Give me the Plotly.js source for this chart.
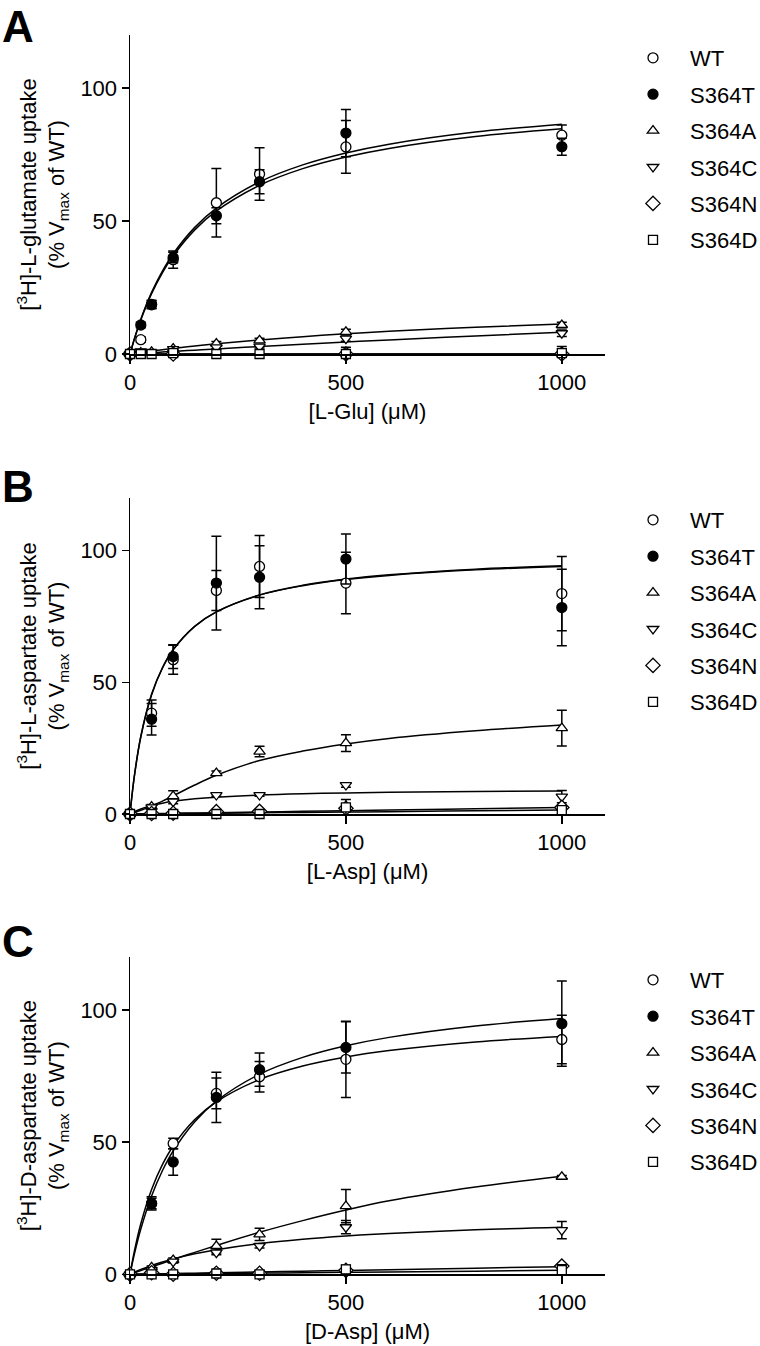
<!DOCTYPE html>
<html><head><meta charset="utf-8">
<script src="https://cdn.plot.ly/plotly-3.0.1.min.js"></script>
<style>body{margin:0;padding:0;background:#fff}#chart{width:760px;height:1346px}</style>
</head><body><div id="chart"></div>
<script>
// ---------- DATA ----------
const seriesNames = ['WT', 'S364T', 'S364A', 'S364C', 'S364N', 'S364D'];
const xTickVals = [0, 500, 1000];
const yTickVals = [0, 50, 100];

// Panel A: L-glutamate
const concA = [0, 25, 50, 100, 200, 300, 500, 1000];
const A_WT = [0, 5.4, 18.5, 35.5, 56.9, 67.7, 77.9, 82.3];
const A_WT_err = [0, 1, 1.5, 3.2, 12.9, 9.9, 9.9, 3.8];
const A_S364T = [0, 10.9, 18.7, 36.3, 52.0, 64.8, 83.1, 78.0];
const A_S364T_err = [0, 1, 1.5, 2, 3, 4.5, 8.9, 3.2];
const A_S364A = [0, 0.5, 0.8, 2.0, 3.9, 5.1, 8.3, 10.9];
const A_S364A_err = [0, 0.3, 0.3, 0.5, 0.8, 0.8, 1, 1];
const A_S364C = [0, 1.0, 0.5, 1.8, 2.5, 2.8, 5.8, 7.8];
const A_S364C_err = [0, 0.3, 0.3, 0.5, 0.5, 0.5, 1, 1.2];
const A_S364N = [0, -0.3, -0.5, 0, -0.2, -0.2, 0, 0];
const A_S364N_err = [0, 0, 0, 0, 0, 0, 0, 0];
const A_S364D = [0, 0, 0, 0.3, 0, 0, 0, 0.3];
const A_S364D_err = [0, 0, 0, 0, 0, 0, 2.5, 2.5];

// Panel B: L-aspartate
const concB = [0, 50, 100, 200, 300, 500, 1000];
const B_WT = [0, 38.3, 58.6, 84.9, 94.0, 87.7, 83.7];
const B_WT_err = [0, 5, 5.5, 7.6, 11.8, 11.7, 14.1];
const B_S364T = [0, 36.0, 59.8, 87.7, 89.9, 96.8, 78.4];
const B_S364T_err = [0, 6, 4.5, 17.8, 12, 9.5, 14.5];
const B_S364A = [0, 2.8, 6.8, 15.5, 23.7, 26.9, 32.6];
const B_S364A_err = [0, 0.8, 2, 0.8, 2, 3.2, 6.8];
const B_S364C = [0, 2.5, 4.7, 7.2, 7.2, 11.0, 6.6];
const B_S364C_err = [0, 0.5, 0.8, 0.5, 0.5, 0.8, 2.3];
const B_S364N = [0, 0.2, 0.3, 0.9, 1.0, 2.2, 2.5];
const B_S364N_err = [0, 0, 0, 0, 0, 0, 0];
const B_S364D = [0, 0, 0, 0, 0, 2.5, 1.5];
const B_S364D_err = [0, 0, 0, 0, 0.5, 3, 1.5];

// Panel C: D-aspartate
const concC = [0, 50, 100, 200, 300, 500, 1000];
const C_WT = [0, 26.8, 49.5, 68.4, 74.7, 81.3, 88.8];
const C_WT_err = [0, 2, 2, 5.8, 5.8, 14.4, 9.2];
const C_S364T = [0, 26.8, 42.5, 66.9, 77.4, 85.8, 94.8];
const C_S364T_err = [0, 2.5, 5, 9.5, 6.3, 9.7, 16.1];
const C_S364A = [0, 2.6, 5.4, 10.7, 15.1, 25.8, 36.9];
const C_S364A_err = [0, 0.5, 0.8, 2.6, 2.3, 6.3, 0.5];
const C_S364C = [0, 1.6, 4.8, 8.2, 10.7, 17.8, 16.7];
const C_S364C_err = [0, 0.5, 0.5, 0.8, 0.8, 2.5, 3.3];
const C_S364N = [0, 0.6, 0, 0.4, 0.4, 1.5, 3.1];
const C_S364N_err = [0, 0, 0, 0, 0, 0, 0];
const C_S364D = [0, 0, 0, 0.3, 0, 1.9, 1.6];
const C_S364D_err = [0, 0, 0, 0, 0, 1.5, 2];

// Fitted curves
const fitX = [0, 10, 25, 50, 75, 100, 150, 200, 300, 400, 500, 600, 800, 1000];
const A_WT_fit = [0, 5.67, 13.08, 23.17, 31.17, 37.69, 47.64, 54.89, 64.74, 71.13, 75.60, 78.91, 83.47, 86.47];
const A_S364T_fit = [0, 5.56, 12.82, 22.71, 30.56, 36.94, 46.70, 53.80, 63.46, 69.72, 74.10, 77.34, 81.82, 84.76];
const A_S364A_fit = [0, 0.23, 0.56, 1.10, 1.61, 2.10, 3.00, 3.83, 5.28, 6.52, 7.59, 8.52, 10.06, 11.29];
const A_S364C_fit = [0, 0.10, 0.25, 0.49, 0.73, 0.97, 1.45, 1.91, 2.80, 3.67, 4.49, 5.29, 6.80, 8.20];
const A_S364N_fit = [0, 0, 0, 0, 0, 0, 0, 0, 0, 0, 0, 0, 0, 0];
const A_S364D_fit = [0, 0, 0, 0, 0, 0, 0, 0, 0, 0, 0, 0, 0, 0];

const B_WT_fit = [0, 14.33, 29.47, 45.48, 55.54, 62.45, 71.31, 76.76, 83.12, 86.70, 89.01, 90.61, 92.71, 94.01];
const B_S364T_fit = [0, 14.18, 29.24, 45.25, 55.35, 62.31, 71.26, 76.78, 83.22, 86.86, 89.21, 90.84, 92.97, 94.30];
const B_S364A_fit = [0, 0.5, 1.4, 3.1, 4.9, 6.9, 11.0, 14.7, 20.3, 23.9, 26.6, 28.7, 31.6, 33.8];
const B_S364C_fit = [0, 0.87, 1.92, 3.2, 4.11, 4.8, 5.76, 6.4, 7.2, 7.68, 8.0, 8.23, 8.53, 8.73];
const B_S364N_fit = [0, 0.03, 0.06, 0.13, 0.19, 0.25, 0.38, 0.5, 0.75, 1.0, 1.25, 1.5, 2.0, 2.5];
const B_S364D_fit = [0, 0.02, 0.04, 0.08, 0.11, 0.15, 0.23, 0.3, 0.45, 0.6, 0.75, 0.9, 1.2, 1.5];

const C_WT_fit = [0, 8.66, 19.14, 32.11, 41.46, 48.54, 58.52, 65.22, 73.67, 78.76, 82.18, 84.62, 87.89, 89.97];
const C_S364T_fit = [0, 7.56, 17.12, 29.63, 39.16, 46.66, 57.73, 65.49, 75.67, 82.05, 86.42, 89.60, 93.92, 96.72];
const C_S364A_fit = [0, 0.55, 1.4, 2.8, 4.2, 5.6, 8.3, 10.9, 15.9, 20.3, 24.3, 27.8, 33.0, 37.1];
const C_S364C_fit = [0, 0.76, 1.80, 3.34, 4.67, 5.84, 7.77, 9.31, 11.62, 13.27, 14.50, 15.45, 16.84, 17.80];
const C_S364N_fit = [0, 0.03, 0.07, 0.15, 0.22, 0.29, 0.44, 0.58, 0.87, 1.16, 1.45, 1.74, 2.32, 2.9];
const C_S364D_fit = [0, 0.02, 0.04, 0.08, 0.11, 0.15, 0.23, 0.3, 0.45, 0.6, 0.75, 0.9, 1.2, 1.5];

const panelLabels = ['A', 'B', 'C'];
const xTitles = ['[L-Glu] (μM)', '[L-Asp] (μM)', '[D-Asp] (μM)'];
const yTitles = [
  '[<sup>3</sup>H]-L-glutamate uptake<br>(% V<sub>max</sub> of WT)',
  '[<sup>3</sup>H]-L-aspartate uptake<br>(% V<sub>max</sub> of WT)',
  '[<sup>3</sup>H]-D-aspartate uptake<br>(% V<sub>max</sub> of WT)'
];

// ---------- STYLE ----------
const FONT = 'Liberation Sans, Arial, Helvetica, sans-serif';
const markerStyles = [
  {symbol: 'circle', color: 'white', size: 10},
  {symbol: 'circle', color: 'black', size: 10},
  {symbol: 'triangle-up', color: 'white', size: 10},
  {symbol: 'triangle-down', color: 'white', size: 10},
  {symbol: 'diamond', color: 'white', size: 11},
  {symbol: 'square', color: 'white', size: 9}
];

const panels = [
  {x: concA, vals: [A_WT, A_S364T, A_S364A, A_S364C, A_S364N, A_S364D],
   errs: [A_WT_err, A_S364T_err, A_S364A_err, A_S364C_err, A_S364N_err, A_S364D_err],
   fits: [A_WT_fit, A_S364T_fit, A_S364A_fit, A_S364C_fit, A_S364N_fit, A_S364D_fit]},
  {x: concB, vals: [B_WT, B_S364T, B_S364A, B_S364C, B_S364N, B_S364D],
   errs: [B_WT_err, B_S364T_err, B_S364A_err, B_S364C_err, B_S364N_err, B_S364D_err],
   fits: [B_WT_fit, B_S364T_fit, B_S364A_fit, B_S364C_fit, B_S364N_fit, B_S364D_fit]},
  {x: concC, vals: [C_WT, C_S364T, C_S364A, C_S364C, C_S364N, C_S364D],
   errs: [C_WT_err, C_S364T_err, C_S364A_err, C_S364C_err, C_S364N_err, C_S364D_err],
   fits: [C_WT_fit, C_S364T_fit, C_S364A_fit, C_S364C_fit, C_S364N_fit, C_S364D_fit]}
];

const W = 760, H = 1346;
const xDom = [130 / W, 605 / W];
const yDoms = [
  [1 - 354 / H, 1 - 35 / H],
  [1 - 814 / H, 1 - 498 / H],
  [1 - 1274.3 / H, 1 - 957 / H]
];
const legendTops = [37, 499, 959];
const labelTops = [0, 460, 915];

const traces = [];
const layout = {
  width: W, height: H,
  margin: {l: 0, r: 0, t: 0, b: 0, autoexpand: false},
  paper_bgcolor: 'white', plot_bgcolor: 'white',
  font: {family: FONT, size: 22, color: 'black'},
  showlegend: true,
  annotations: []
};

panels.forEach((p, i) => {
  const n = i + 1;
  const xa = n === 1 ? 'x' : 'x' + n;
  const ya = n === 1 ? 'y' : 'y' + n;
  const lg = n === 1 ? 'legend' : 'legend' + n;
  p.fits.forEach((f, k) => {
    traces.push({
      type: 'scatter', mode: 'lines', x: fitX, y: f, xaxis: xa, yaxis: ya,
      line: {color: 'black', width: 1.5, shape: 'spline'},
      showlegend: false, hoverinfo: 'skip', legend: lg, legendgroup: lg + '_fit'
    });
  });
  p.vals.forEach((v, k) => {
    const ms = markerStyles[k];
    traces.push({
      type: 'scatter', mode: 'markers', name: seriesNames[k],
      x: p.x, y: v, xaxis: xa, yaxis: ya, legend: lg, legendgroup: lg + '_' + seriesNames[k],
      cliponaxis: false,
      marker: {symbol: ms.symbol, color: ms.color, size: ms.size, line: {color: 'black', width: 1.3}},
      error_y: {type: 'data', array: p.errs[k], visible: true, color: 'black', thickness: 1.5, width: 5}
    });
  });
  layout['xaxis' + (n === 1 ? '' : n)] = {
    domain: xDom, anchor: ya, range: [0, 1100],
    showline: true, linecolor: 'black', linewidth: 1.5,
    ticks: 'outside', ticklen: 8, tickwidth: 1.5, tickcolor: 'black',
    tickvals: xTickVals, showgrid: false, zeroline: false, automargin: false,
    tickfont: {size: 22},
    title: {text: xTitles[i], font: {size: 22}, standoff: 9}
  };
  layout['yaxis' + (n === 1 ? '' : n)] = {
    domain: yDoms[i], anchor: xa, range: [0, 120],
    showline: true, linecolor: 'black', linewidth: 1.5,
    ticks: 'outside', ticklen: 7, tickwidth: 1.5, tickcolor: 'black',
    tickvals: yTickVals, showgrid: false, zeroline: false, automargin: false,
    tickfont: {size: 22},
    title: {text: yTitles[i], font: {size: 22}, standoff: 9}
  };
  layout[lg] = {
    x: 616 / W, xanchor: 'left', y: 1 - legendTops[i] / H, yanchor: 'top',
    bgcolor: 'rgba(0,0,0,0)', borderwidth: 0,
    font: {family: FONT, size: 22, color: 'black'},
    itemwidth: 64, traceorder: 'grouped', tracegroupgap: 4.8
  };
  layout.annotations.push({
    xref: 'paper', yref: 'paper', x: 0, y: 1 - labelTops[i] / H,
    xanchor: 'left', yanchor: 'top', showarrow: false,
    text: '<b>' + panelLabels[i] + '</b>',
    font: {family: 'Liberation Sans, Arial, sans-serif', size: 44, color: 'black'}
  });
});

Plotly.newPlot('chart', traces, layout, {staticPlot: true, displayModeBar: false});
</script>
</body></html>
